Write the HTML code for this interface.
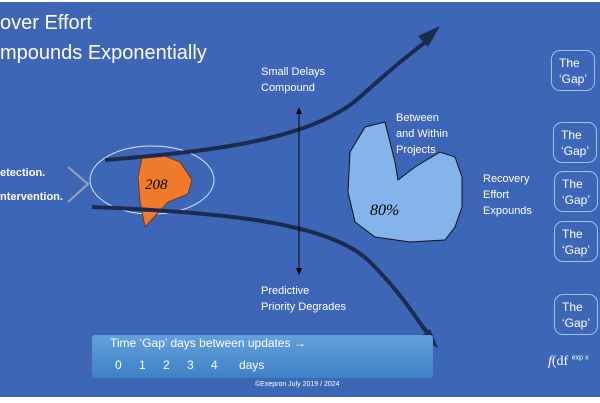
<!DOCTYPE html>
<html><head><style>
body{margin:0;width:600px;height:403px;overflow:hidden;background:#fff;font-family:"Liberation Sans",sans-serif}
#c{position:absolute;left:0;top:2px;width:600px;height:395px;background:#3e66b7;overflow:hidden}
.t{position:absolute;color:#fff;white-space:nowrap}
.g{position:absolute;width:44px;height:41px;border:1px solid #a9bde3;border-radius:9px;color:#fff;font-size:12px;line-height:16px;padding-left:7px;box-sizing:border-box;padding-top:4px}
</style></head><body>
<div id="c">
<div class="t" style="left:0;top:10px;font-size:20px">over Effort</div>
<div class="t" style="left:0;top:40px;font-size:20px">mpounds Exponentially</div>
<div class="t" style="left:261px;top:62px;font-size:11px;line-height:16px">Small Delays<br>Compound</div>
<div class="t" style="left:261px;top:281px;font-size:11px;line-height:16px">Predictive<br>Priority Degrades</div>
<div class="t" style="left:0;top:165px;font-size:11px;font-weight:bold">etection.</div>
<div class="t" style="left:0;top:189px;font-size:11px;font-weight:bold">ntervention.</div>
<div class="t" style="left:396px;top:108px;font-size:11px;line-height:16px">Between<br>and Within<br>Projects</div>
<div class="t" style="left:483px;top:169px;font-size:11px;line-height:16px">Recovery<br>Effort<br>Expounds</div>
<svg width="600" height="395" style="position:absolute;left:0;top:0">
<defs><linearGradient id="b" x1="0" y1="0" x2="0" y2="1"><stop offset="0" stop-color="#64a0da"/><stop offset="1" stop-color="#3f80c6"/></linearGradient></defs>
<polyline points="68,165 88,182 68,200" fill="none" stroke="#9aa3ad" stroke-width="2"/>
<ellipse cx="152" cy="178" rx="62" ry="34" fill="none" stroke="#dde4f2" stroke-width="1"/>
<path d="M142,155 L160,152 L180,160 L192,178 L188,192 L168,200 L145,225 L140,200 L138,175 Z" fill="#f07b2d" stroke="#6b3a1e" stroke-width="1"/>
<text x="145" y="187" font-size="15" font-family="Liberation Serif" font-style="italic">208</text>
<path d="M105,158 C200,150 310,140 360,95 S420,45 432,35" fill="none" stroke="#1b2a4e" stroke-width="4"/>
<polygon points="440,24 428,45 418,34" fill="#1b2a4e"/>
<path d="M92,205 C220,210 330,220 370,260 S420,325 430,333" fill="none" stroke="#1b2a4e" stroke-width="4"/>
<polygon points="438,346 419,336 430,327" fill="#1b2a4e"/>
<line x1="299" y1="110" x2="299" y2="270" stroke="#000" stroke-width="1"/>
<polygon points="299,105 296,112 302,112" fill="#000"/>
<polygon points="299,273 296,266 302,266" fill="#000"/>
<path d="M365,125 L385,120 L390,140 L395,160 L398,178 L415,165 L440,150 L455,155 L462,175 L462,205 L455,225 L445,238 L410,240 L375,235 L355,220 L348,190 L350,150 Z" fill="#86b4ea" stroke="#111" stroke-width="1"/>
<text x="370" y="213" font-size="16" font-family="Liberation Serif" font-style="italic">80%</text>
<rect x="92" y="333" width="341" height="43" rx="3" fill="url(#b)"/>
</svg>
<div class="t" style="left:110px;top:334px;font-size:12px">Time ‘Gap’ days between updates →</div>
<div class="t" style="left:115px;top:356px;font-size:12px;word-spacing:14px">0 1 2 3 4 <span style="margin-left:4px">days</span></div>
<div class="t" style="left:255px;top:379px;font-size:7px">©Exepron July 2019 / 2024</div>
<div class="t" style="left:548px;top:352px;font-size:14px;font-family:'Liberation Serif'"><i>f</i>(df <sup style="font-size:7px;font-family:'Liberation Sans'">exp x</sup></div>
<div class="g" style="left:551px;top:48px">The<br>‘Gap’</div>
<div class="g" style="left:553px;top:120px">The<br>‘Gap’</div>
<div class="g" style="left:554px;top:169px">The<br>‘Gap’</div>
<div class="g" style="left:554px;top:219px">The<br>‘Gap’</div>
<div class="g" style="left:554px;top:292px">The<br>‘Gap’</div>
</div>
</body></html>
